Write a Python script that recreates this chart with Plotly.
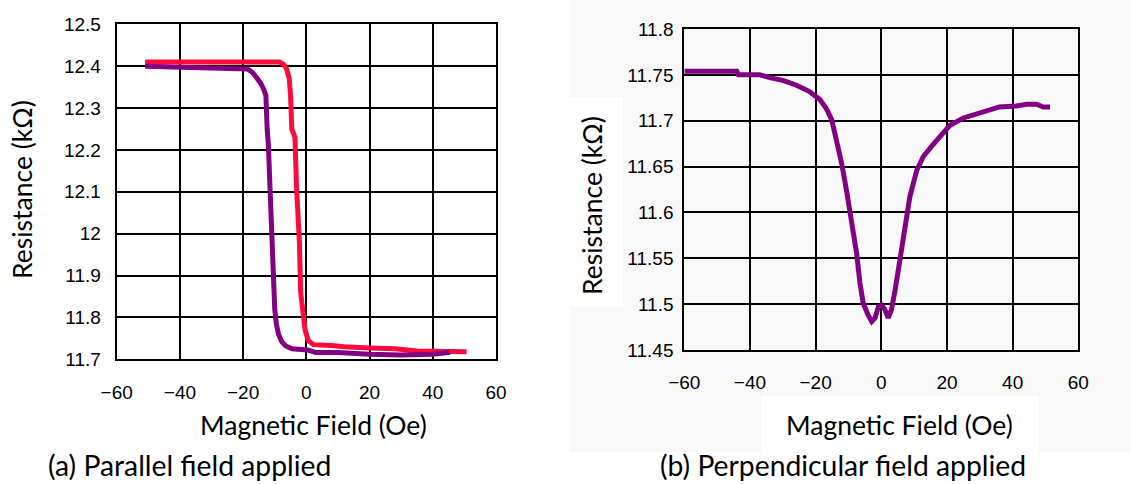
import plotly.graph_objects as go

W, H = 1131, 484

# ---------------- data: (a) parallel field ----------------
a_red_x = [-51, -30, -8.5, -7.3, -6.3, -5.4, -5.0, -4.6, -3.6, -3.1, -2.2, -1.8, -1.0, -0.4, 0.6, 2.2,
           8, 12, 20, 28, 35, 42, 50.7]
a_red_y = [12.41, 12.41, 12.41, 12.405, 12.395, 12.37, 12.33, 12.25, 12.23, 12.11, 11.98, 11.86, 11.81,
           11.77, 11.745, 11.735, 11.733, 11.730, 11.727, 11.725, 11.720, 11.718, 11.718]

a_pur_x = [-51, -42, -25, -18.5, -17, -15.7, -14.5, -13.5, -12.8, -12.4, -12.0, -11.5, -11.0, -10.5,
           -10.0, -9.5, -8.8, -7.8, -6.5, -4.5, -2, 0.5, 3, 10, 20, 30, 40, 45.5]
a_pur_y = [12.400, 12.398, 12.396, 12.393, 12.385, 12.373, 12.36, 12.345, 12.33, 12.25, 12.21, 12.11,
           12.0, 11.89, 11.82, 11.785, 11.76, 11.742, 11.732, 11.725, 11.724, 11.722, 11.716, 11.716,
           11.712, 11.710, 11.712, 11.717]

# ---------------- data: (b) perpendicular field ----------------
b_x = [-60, -44, -43.5, -37, -34, -30, -26, -22, -18.7, -16.7, -15.1, -13.6, -12.1, -10.6, -9.0, -7.5,
       -6.5, -5.5, -4.0, -2.9, -1.9, -0.9, 0.1, 1.1, 2.1, 3.1, 4.2, 5.7, 7.2, 8.7, 10.8, 12.8, 15.3,
       17.9, 20.9, 25, 30, 36, 41, 44.3, 47.3, 49.3, 51.4]
b_y = [11.754, 11.754, 11.750, 11.750, 11.747, 11.744, 11.739, 11.732, 11.723, 11.713, 11.701, 11.679,
       11.654, 11.624, 11.592, 11.555, 11.523, 11.501, 11.488, 11.481, 11.485, 11.497, 11.499, 11.494,
       11.485, 11.494, 11.515, 11.548, 11.584, 11.617, 11.646, 11.661, 11.672, 11.683, 11.695, 11.703,
       11.708, 11.715, 11.716, 11.718, 11.718, 11.715, 11.715]

# ---------------- tick labels ----------------
x_tickvals = [-60, -40, -20, 0, 20, 40, 60]
x_ticktext = ["\u221260", "\u221240", "\u221220", "0", "20", "40", "60"]
a_tickvals = [11.7, 11.8, 11.9, 12.0, 12.1, 12.2, 12.3, 12.4, 12.5]
a_ticktext = ["11.7", "11.8", "11.9", "12", "12.1", "12.2", "12.3", "12.4", "12.5"]
b_tickvals = [11.45, 11.5, 11.55, 11.6, 11.65, 11.7, 11.75, 11.8]
b_ticktext = ["11.45", "11.5", "11.55", "11.6", "11.65", "11.7", "11.75", "11.8"]

xlabel = "Magnetic Field (Oe)"
ylabel = "Resistance (k\u03a9)"
cap_a = "(a) Parallel field applied"
cap_b = "(b) Perpendicular field applied"

RED = "#ff0a3c"
PURPLE = "#820082"

fig = go.Figure()
fig.add_trace(go.Scatter(x=a_red_x, y=a_red_y, mode="lines", line=dict(color=RED, width=5),
                         xaxis="x", yaxis="y", showlegend=False, hoverinfo="skip"))
fig.add_trace(go.Scatter(x=a_pur_x, y=a_pur_y, mode="lines", line=dict(color=PURPLE, width=5),
                         xaxis="x", yaxis="y", showlegend=False, hoverinfo="skip"))
fig.add_trace(go.Scatter(x=b_x, y=b_y, mode="lines", line=dict(color=PURPLE, width=5),
                         xaxis="x2", yaxis="y2", showlegend=False, hoverinfo="skip"))

def px(x):
    return x / W

def py(y):
    return 1 - y / H

tickfont = dict(family="Liberation Sans, Arial, sans-serif", size=19, color="black")
axcommon = dict(showgrid=True, gridcolor="black", gridwidth=2, showline=True, linecolor="black",
                linewidth=2, mirror=True, zeroline=False, ticks="", tickfont=tickfont,
                fixedrange=True, automargin=False)

fig.update_layout(
    template="none",
    width=W, height=H,
    margin=dict(l=0, r=0, t=0, b=0, pad=0, autoexpand=False),
    paper_bgcolor="white", plot_bgcolor="white",
    xaxis=dict(domain=[px(116.7), px(496)], range=[-60, 60], tickvals=x_tickvals, ticktext=x_ticktext,
               anchor="y", ticklabelstandoff=15, **axcommon),
    yaxis=dict(domain=[py(359.3), py(24.3)], range=[11.7, 12.5], tickvals=a_tickvals, ticktext=a_ticktext,
               anchor="x", ticklabelstandoff=10, **axcommon),
    xaxis2=dict(domain=[px(684.3), px(1078.3)], range=[-60, 60], tickvals=x_tickvals, ticktext=x_ticktext,
                anchor="y2", ticklabelstandoff=14, **axcommon),
    yaxis2=dict(domain=[py(350), py(29)], range=[11.45, 11.8], tickvals=b_tickvals, ticktext=b_ticktext,
                anchor="x2", ticklabelstandoff=5, **axcommon),
)

# light grey backdrop of the right-hand picture, with white boxes behind its labels
shapes = [
    dict(type="rect", xref="paper", yref="paper", x0=px(570), x1=1, y0=py(452), y1=1,
         fillcolor="#f8f8f8", line=dict(width=0), layer="below"),
    dict(type="rect", xref="paper", yref="paper", x0=px(570), x1=px(623), y0=py(307), y1=py(97),
         fillcolor="white", line=dict(width=0), layer="below"),
    dict(type="rect", xref="paper", yref="paper", x0=px(761), x1=px(1039), y0=py(452), y1=py(396),
         fillcolor="white", line=dict(width=0), layer="below"),
]
fig.update_layout(shapes=shapes)

labfont = dict(family="Lato, Open Sans, sans-serif", size=26.5, color="black")
capfont = dict(family="Lato, Open Sans, sans-serif", size=28.3, color="black")
ann = [
    dict(text=ylabel, x=px(22), y=py(190), textangle=-90, font=labfont),
    dict(text=ylabel, x=px(592), y=py(206), textangle=-90, font=labfont),
    dict(text=xlabel, x=px(314), y=py(425), font=labfont),
    dict(text=xlabel, x=px(899), y=py(425), font=labfont),
    dict(text=cap_a, x=px(46), y=py(465), xanchor="left", font=capfont),
    dict(text=cap_b, x=px(658), y=py(465), xanchor="left", font=capfont),
]
for a in ann:
    a.setdefault("xanchor", "center")
    fig.add_annotation(xref="paper", yref="paper", yanchor="middle", showarrow=False, **a)

fig.write_html("out.html", config={"displayModeBar": False, "staticPlot": True},
               post_script="document.body.style.margin='0';document.body.style.overflow='hidden';")
